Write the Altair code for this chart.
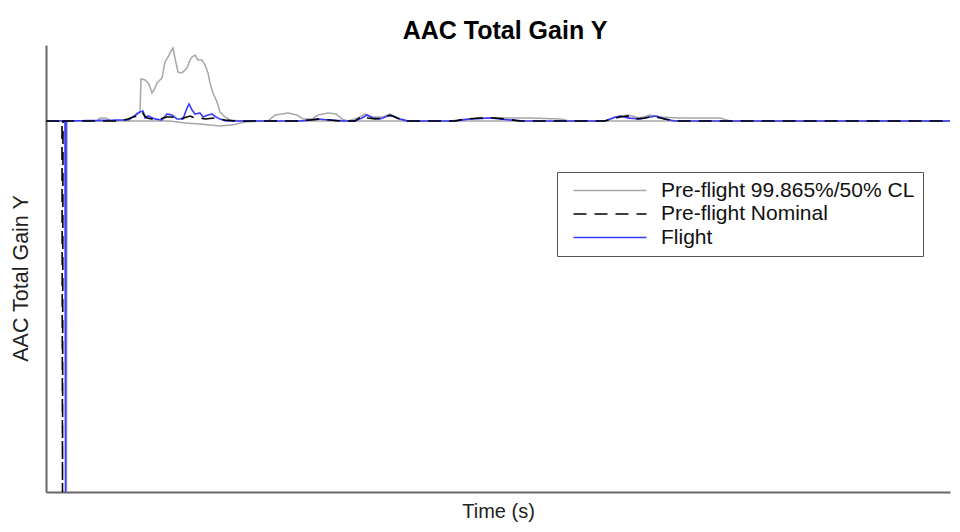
import altair as alt
import pandas as pd

# ---- data (time in s, gain in arbitrary units) ----
LABEL_CL = "Pre-flight 99.865%/50% CL"
LABEL_NOM = "Pre-flight Nominal"
LABEL_FLT = "Flight"

cl_upper = [[0,0],[10,0],[10.25,-3.71],[10.5,0],[25.5,0],[27,0.03],[30,0.03],[32.5,0],[40.5,0.01],
            [43.5,0.04],[45.5,0.08],[47,0.09],[47.5,0.42],[49.5,0.41],[51.5,0.37],[53,0.28],[54.5,0.33],
            [55.5,0.38],[57,0.41],[58,0.43],[59.5,0.59],[61,0.64],[62,0.68],[63.5,0.73],[65,0.58],
            [66,0.49],[67.5,0.48],[68.5,0.49],[70.5,0.53],[72,0.61],[73,0.64],[74.5,0.66],[76,0.61],
            [78,0.61],[79.5,0.56],[81,0.48],[82,0.38],[83.5,0.28],[85.5,0.19],[87,0.09],[89.5,0.04],
            [92,0.01],[97,0],[111,0],[114.5,0.06],[121,0.08],[125.5,0.06],[128.5,0.02],[133,0.02],
            [136,0.06],[141,0.08],[145,0.07],[148,0.02],[151,0],[156,0.03],[159.5,0.07],[163,0.04],
            [168.5,0.04],[172,0.07],[175.5,0.03],[179.5,0],[202,0],[209.5,0.02],[222,0.03],[232,0.03],
            [242,0.03],[257,0.02],[262,0],[279.5,0],[284.5,0.04],[291,0.06],[297,0.03],[302,0.06],
            [307,0.04],[317,0.03],[337,0.03],[342,0],[452,0]]

cl_lower = [[0,0],[62,0],[69.5,-0.02],[77,-0.03],[87,-0.05],[93,-0.04],[99.5,-0.01],[107,0],[452,0]]

nominal = [[0,0],[8,0],[8.25,-3.71],[8.5,0],[37,0],[41,0.02],[43.5,0.04],[45.5,0.05],[47,0.08],[48,0.09],
           [49.5,0.05],[50.5,0.03],[53,0.02],[57,0.02],[60.5,0.04],[63,0.04],[67,0.02],[70.5,0.04],
           [72,0.05],[74.5,0.03],[77,0.03],[79.5,0.02],[84.5,0.03],[89.5,0.01],[94.5,0],[127,0],
           [132,0.01],[137,0.02],[142,0.01],[147,0],[154.5,0],[158,0.05],[161,0.03],[164.5,0.02],
           [168.5,0.03],[172,0.06],[175.5,0.03],[179.5,0],[204.5,0],[209.5,0.02],[217,0.03],
           [224.5,0.03],[229.5,0.02],[237,0],[279.5,0],[283,0.02],[287,0.04],[291,0.05],[294.5,0.02],
           [299.5,0.03],[303.5,0.05],[307,0.03],[312,0.01],[317,0],[452,0]]

flight = [[0,0],[9.5,0],[9.75,-3.71],[10,0],[38.5,0.01],[41,0.01],[43.5,0.04],[47,0.09],[48.5,0.10],
          [49.5,0.03],[51,0.05],[54.5,0.02],[58,0.01],[60.5,0.07],[63,0.06],[65.5,0.02],[68.5,0.02],
          [70.5,0.13],[71.5,0.17],[73,0.11],[74.5,0.07],[77,0.08],[78.5,0.04],[81,0.06],[83,0.07],
          [85,0.04],[87,0.02],[90,0],[127,0],[132,0.01],[136,0.02],[142,0.01],[149.5,0],[154.5,0],
          [158,0.03],[160.5,0.06],[163.5,0.03],[167,0.02],[171,0.05],[173.5,0.05],[177,0.02],[181,0],
          [204.5,0],[212,0.02],[222,0.03],[232,0.01],[239.5,0],[279.5,0],[283.5,0.03],[287,0.05],
          [291,0.03],[297,0.02],[302,0.04],[305,0.05],[309.5,0.02],[314.5,0],[452,0]]

series_list = [
    ("cl_upper", LABEL_CL, cl_upper),
    ("cl_lower", LABEL_CL, cl_lower),
    ("flight", LABEL_FLT, flight),
    ("nominal", LABEL_NOM, nominal),
]

rows = []
for line_id, label, pts in series_list:
    for i, (t, v) in enumerate(pts):
        rows.append({"t": t, "v": v, "series": label, "line": line_id, "idx": i})
df = pd.DataFrame(rows)

FONT = "Liberation Sans"
domain = [LABEL_CL, LABEL_NOM, LABEL_FLT]
colors = ["#a6a6a6", "#000000", "#3a3aff"]
dashes = [[1, 0], [13, 8], [1, 0]]

# long horizontal stroke symbol (custom path, scaled by sqrt(symbolSize)/2)
legend = alt.Legend(
    title=None, orient="none", legendX=511, legendY=127,
    strokeColor="#555555", fillColor="white", padding=8,
    labelFont=FONT, labelFontSize=21, labelColor="#111111", labelOffset=75, labelLimit=500,
    symbolType="M-0.5,0H17.75", symbolSize=64, symbolStrokeWidth=1.6, rowPadding=1.5,
)

x_enc = alt.X("t:Q", scale=alt.Scale(domain=[0, 452], nice=False, zero=False),
              axis=alt.Axis(title="Time (s)", labels=False, ticks=False, grid=False,
                            domainColor="#666666", domainWidth=2,
                            titleFont=FONT, titleFontSize=20, titleFontWeight="normal",
                            titleColor="#222222", titlePadding=9))
y_enc = alt.Y("v:Q", scale=alt.Scale(domain=[-3.71, 0.76], nice=False, zero=False),
              axis=alt.Axis(title="AAC Total Gain Y", labels=False, ticks=False, grid=False,
                            domainColor="#666666", domainWidth=2,
                            titleFont=FONT, titleFontSize=21.5, titleFontWeight="normal",
                            titleColor="#222222", titlePadding=14, titleY=233))

def layer(line_id, width):
    return alt.Chart(df).transform_filter(alt.datum.line == line_id).mark_line(strokeWidth=width).encode(
        x=x_enc, y=y_enc,
        color=alt.Color("series:N", scale=alt.Scale(domain=domain, range=colors), legend=legend),
        strokeDash=alt.StrokeDash("series:N", scale=alt.Scale(domain=domain, range=dashes), legend=legend),
        detail="line:N",
        order="idx:Q",
    )

chart = alt.layer(
    layer("cl_upper", 1.5),
    layer("cl_lower", 1.5),
    layer("flight", 1.6),
    layer("nominal", 1.6),
).properties(
    width=904, height=447,
    background="white",
    title=alt.TitleParams("AAC Total Gain Y", font=FONT, fontSize=25, fontWeight="bold",
                          color="#000000", anchor="middle", offset=1, dx=7),
    autosize=alt.AutoSizeParams(type="none"),
    padding={"left": 38, "top": 37, "right": 2, "bottom": 32},
).configure_view(stroke="transparent", strokeWidth=0)

chart.save("out.html", embed_options={"renderer": "svg", "actions": False})
